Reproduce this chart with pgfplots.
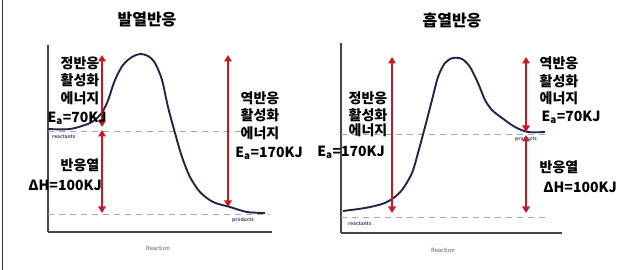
\documentclass[border=0pt]{standalone}
\usepackage{fontspec}
\setmainfont{Noto Sans CJK KR}
\usepackage{pgfplots}
\pgfplotsset{compat=1.18}
\usetikzlibrary{arrows.meta}
\definecolor{curvec}{RGB}{35,35,75}
\definecolor{arrc}{RGB}{200,25,35}
\definecolor{dashc}{RGB}{165,165,165}
\definecolor{axc}{RGB}{70,70,70}
\definecolor{smallc}{RGB}{80,85,115}
\pgfplotsset{
  panel/.style={scale only axis, axis lines*=left, ticks=none, clip=false,
    axis line style={axc, line width=1.4pt}},
  curve/.style={curvec, line width=1.9pt, smooth, tension=0.5, no marks},
  redarr/.style={arrc, line width=2.2pt, no marks, {Triangle[length=6.5pt,width=7.5pt]}-{Triangle[length=6.5pt,width=7.5pt]}},
  dashl/.style={dashc, line width=0.9pt, dash pattern=on 6pt off 5pt, no marks},
}
\newcommand{\lab}[1]{\fontsize{14}{16}\selectfont\bfseries #1}
\begin{document}
\begin{tikzpicture}
\useasboundingbox (0,0) rectangle (635pt,270pt);
\fill[white] (0,0) rectangle (635pt,270pt);
\draw[black!80, line width=1.5pt] (2.5pt,0) -- (2.5pt,270pt);
% ---------------- exothermic
\begin{axis}[panel, at={(48pt,38pt)}, anchor=south west, width=224pt, height=187pt,
  xmin=48, xmax=272, ymin=38, ymax=225]
\addplot[dashl] coordinates {(48,139) (272,139)};
\addplot[dashl] coordinates {(48,56) (270,56)};
\addplot[curve] coordinates {(48,141) (70,141) (90,147) (100,155) (107,167) (115,190) (123,205) (132,213) (140,216) (148,214) (155,207) (162,190) (168,163) (175,137) (182,113) (190,93) (200,78) (213,68) (230,63) (247,58) (265,57)};
\addplot[redarr] coordinates {(102,215) (102,143)};
\addplot[redarr] coordinates {(102,140) (102,57)};
\addplot[redarr] coordinates {(228,215) (228,63)};
\node at (axis cs:147,250) {\fontsize{16}{18}\selectfont\bfseries 발열반응};
\node at (axis cs:80,207) {\lab{정반응}};
\node at (axis cs:80,190) {\lab{활성화}};
\node at (axis cs:80,172) {\lab{에너지}};
\node at (axis cs:77,152) {\lab{E\textsubscript{a}=70KJ}};
\node at (axis cs:80,105) {\lab{반응열}};
\node at (axis cs:65,85) {\lab{ΔH=100KJ}};
\node at (axis cs:260,172) {\lab{역반응}};
\node at (axis cs:260,155) {\lab{활성화}};
\node at (axis cs:260,137) {\lab{에너지}};
\node at (axis cs:269,117) {\lab{E\textsubscript{a}=170KJ}};
\node[anchor=west, inner sep=0pt, text=smallc] at (axis cs:52,133) {\fontsize{4.8}{5}\selectfont\bfseries\itshape reactants};
\node[anchor=west, inner sep=0pt, text=smallc] at (axis cs:232,50) {\fontsize{4.8}{5}\selectfont\bfseries\itshape products};
\node[text=smallc] at (axis cs:158,22) {\fontsize{5.8}{6}\selectfont Reaction};
\end{axis}
% ---------------- endothermic
\begin{axis}[panel, at={(341pt,37pt)}, anchor=south west, width=221pt, height=190pt,
  xmin=341, xmax=562, ymin=37, ymax=227]
\addplot[dashl] coordinates {(341,53) (548,53)};
\addplot[dashl] coordinates {(341,136) (548,136)};
\addplot[curve] coordinates {(343,59) (365,62) (382,66) (392,71) (402,80) (412,97) (418,117) (425,143) (432,170) (438,193) (445,207) (453,212) (462,211) (470,203) (478,187) (485,170) (492,160) (502,152) (515,143) (528,138) (545,138)};
\addplot[redarr] coordinates {(392,213) (392,57)};
\addplot[redarr] coordinates {(526,213) (526,138)};
\addplot[redarr] coordinates {(526,135) (526,57)};
\node at (axis cs:452,250) {\fontsize{16}{18}\selectfont\bfseries 흡열반응};
\node at (axis cs:368,172) {\lab{정반응}};
\node at (axis cs:368,155) {\lab{활성화}};
\node at (axis cs:368,140) {\lab{에너지}};
\node at (axis cs:351,118) {\lab{E\textsubscript{a}=170KJ}};
\node at (axis cs:559,207) {\lab{역반응}};
\node at (axis cs:559,189) {\lab{활성화}};
\node at (axis cs:559,172) {\lab{에너지}};
\node at (axis cs:571,153) {\lab{E\textsubscript{a}=70KJ}};
\node at (axis cs:559,103) {\lab{반응열}};
\node at (axis cs:580,83) {\lab{ΔH=100KJ}};
\node[anchor=west, inner sep=0pt, text=smallc] at (axis cs:348,46) {\fontsize{4.8}{5}\selectfont\bfseries\itshape reactants};
\node[anchor=west, inner sep=0pt, text=smallc] at (axis cs:515,131) {\fontsize{4.8}{5}\selectfont\bfseries\itshape products};
\node[text=smallc] at (axis cs:443,20) {\fontsize{5.8}{6}\selectfont Reaction};
\end{axis}
\end{tikzpicture}
\end{document}
